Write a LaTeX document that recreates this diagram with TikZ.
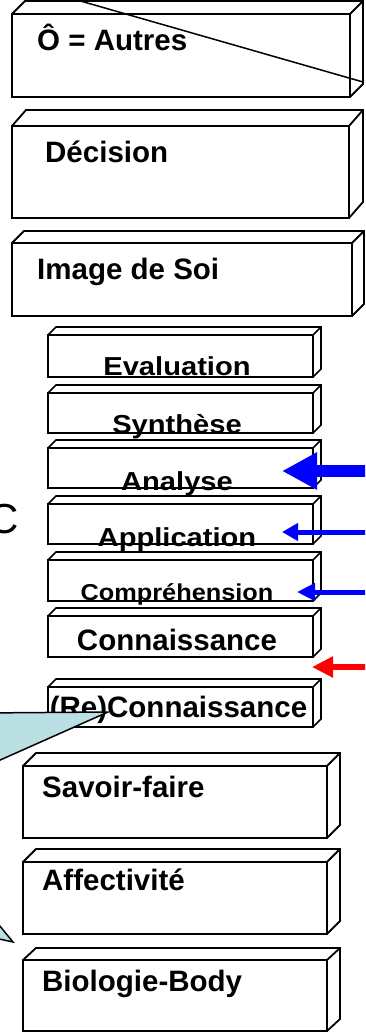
\documentclass[tikz,border=0pt]{standalone}
\usepackage{fontspec}
\setmainfont{Liberation Sans}
\usetikzlibrary{arrows.meta,calc}
\definecolor{callblue}{RGB}{186,224,228}
\newcommand\cubebox[8]{% #1 name, #2 x1, #3 y1, #4 x2, #5 y2, #6 dx, #7 dy, #8 line width
  \node[face, line width=#8, minimum width={(#4-#2)*1pt}, minimum height={(#5-#3)*1pt}] (#1) at ({(#2+#4)/2},{(#3+#5)/2}) {};
  \draw[edge3d, line width=#8] (#1.north west) -- ++(#6,-#7) -| ($(#1.south east)+(#6,-#7)$) -- (#1.south east)
    (#1.north east) -- ++(#6,-#7);
}
\tikzset{
  face/.style={draw, fill=white, inner sep=0pt, outer sep=0pt},
  edge3d/.style={line join=miter},
  bigtxt/.style={inner sep=0pt, anchor=base west, font=\bfseries\fontsize{29.5}{30}\selectfont},
  smalltxt/.style={inner sep=0pt, anchor=base, font=\bfseries\fontsize{26}{28}\selectfont},
  midtxt/.style={inner sep=0pt, anchor=base, font=\bfseries\fontsize{29.5}{30}\selectfont},
  callout/.style={draw, line width=1.5pt, fill=callblue, line join=miter},
}
\begin{document}
\begin{tikzpicture}[x=1pt,y=-1pt]
\useasboundingbox (0,0) rectangle (365,1033);
\clip (0,0) rectangle (365,1033);
\fill[white] (0,0) rectangle (365,1033);

% large upper boxes
\cubebox{autres}{12}{14}{350}{97}{13}{13}{1.8pt}
\cubebox{decision}{12}{126}{349}{218}{14}{16}{1.8pt}
\cubebox{image}{12}{243}{352}{316}{12}{12}{1.8pt}

% diagonal across the first box
\coordinate (diagA) at (77,0);
\coordinate (diagB) at (363,82);
\draw[line width=1.5pt] (diagA) -- (diagB);

% small boxes
\cubebox{evaluation}{48}{335}{313}{377}{8}{8}{1.6pt}
\cubebox{synthese}{48}{393}{313}{433}{8}{8}{1.6pt}
\cubebox{analyse}{48}{448}{313}{488}{8}{8}{1.6pt}
\cubebox{application}{48}{504}{313}{544}{8}{8}{1.6pt}
\cubebox{comprehension}{48}{560}{313}{601}{8}{8}{1.6pt}
\cubebox{connaissance}{48}{616}{313}{657}{8}{8}{1.6pt}
\cubebox{reconnaissance}{48}{687}{313}{727}{8}{8}{1.6pt}

% large lower boxes
\cubebox{savoir}{23}{766}{327}{838}{13}{13}{1.8pt}
\cubebox{affect}{23}{862}{327}{934}{13}{13}{1.8pt}
\cubebox{bio}{23}{960}{327}{1031}{13}{12}{1.8pt}

% texts
\node[bigtxt] (tautres) at (37,51) {Ô = Autres};
\node[bigtxt] (tdecision) at (45,162) {Décision};
\node[bigtxt] (timage) at (37,279) {Image de Soi};
\node[smalltxt] (tevaluation) at (177,375) {\scalebox{1.12}[1]{Evaluation}};
\node[smalltxt] (tsynthese) at (177,433) {\scalebox{1.12}[1]{Synthèse}};
\node[smalltxt] (tanalyse) at (177,490) {\scalebox{1.12}[1]{Analyse}};
\node[smalltxt] (tapplication) at (177,546.5) {\scalebox{1.12}[1]{Application}};
\node[inner sep=0pt, anchor=base, font=\bfseries\fontsize{23}{25}\selectfont] (tcomprehension) at (177,600.5) {\scalebox{1.1}[1]{Compréhension}};
\node[midtxt] (tconnaissance) at (177,650) {Connaissance};
\node[midtxt] (treconnaissance) at (178.5,717) {(Re)Connaissance};
\node[bigtxt] (tsavoir) at (42,797) {Savoir-faire};
\node[bigtxt] (taffect) at (42,890.5) {Affectivité};
\node[bigtxt] (tbio) at (42,991) {Biologie-Body};

% letter at the left edge (cut off in the original)
\node[inner sep=0pt, anchor=base west, font=\fontsize{42}{42}\selectfont] (cletter) at (-11.5,533) {C};

% callout wedges from the left
\coordinate (c1a) at (-20,713);
\coordinate (c1tip) at (108,712);
\coordinate (c1b) at (-20,769);
\draw[callout] (c1a) -- (c1tip) -- (c1b);
\coordinate (c2a) at (-10,914);
\coordinate (c2tip) at (13,942);
\coordinate (c2b) at (-10,937);
\draw[callout] (c2a) -- (c2tip) -- (c2b);

% arrows from the right
\coordinate (aAstart) at (372,471);
\coordinate (aAtip) at (282,471);
\draw[blue, line width=12pt, -{Triangle[length=35pt,width=35pt]}] (aAstart) -- (aAtip);
\coordinate (aPstart) at (372,532);
\coordinate (aPtip) at (282,532);
\draw[blue, line width=5pt, -{Triangle[length=16pt,width=17pt]}] (aPstart) -- (aPtip);
\coordinate (aCstart) at (372,592);
\coordinate (aCtip) at (297,592);
\draw[blue, line width=5pt, -{Triangle[length=18pt,width=17pt]}] (aCstart) -- (aCtip);
\coordinate (aRstart) at (372,667);
\coordinate (aRtip) at (312,667);
\draw[red, line width=6pt, -{Triangle[length=21pt,width=20pt]}] (aRstart) -- (aRtip);
\end{tikzpicture}
\end{document}
